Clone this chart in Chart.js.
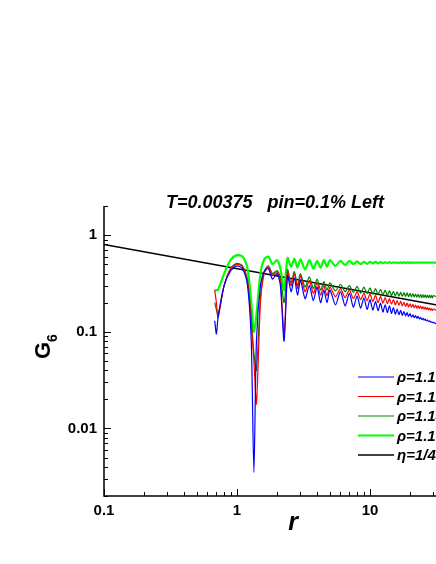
<!DOCTYPE html>
<html>
<head>
<meta charset="utf-8">
<script src="https://cdn.jsdelivr.net/npm/chart.js@4"></script>
<style>
  html, body { margin: 0; padding: 0; background: #fff; overflow: hidden; }
  #wrap { width: 436px; height: 564px; overflow: hidden; }
</style>
</head>
<body>
<div id="wrap"><canvas id="c" width="510" height="564"></canvas></div>
<script>
// r values (shared by all four curves)
const rVals = [0.68,0.70,0.72,0.8,0.9,1.0,1.1,1.2,1.28,1.34,1.4,1.5,1.6,1.72,1.85,2.0,2.12,2.26,2.4,2.55,2.7,2.85,3.0,3.25,3.5,3.75,4.0,4.25,4.5,4.75,5,5.5,6,6.5,7,7.5,8,8.5,9,9.5,10,10.5,11,11.5,12,12.5,13,13.5,14,14.5,15,15.5,16,16.5,17,17.5,18,18.5,19,19.5,20,20.5,21,21.5,22,22.5,23,23.5,24,24.5,25,25.5,26,26.5,27,27.5,28,28.5,29,29.5,30,31,32];
const blue  = [0.13,0.095,0.14,0.3,0.43,0.48,0.45,0.3,0.08,0.0035,0.08,0.3,0.42,0.45,0.35,0.4,0.3,0.08,0.38,0.26,0.36,0.24,0.34,0.22,0.3,0.21,0.29,0.2,0.27,0.2,0.27,0.19,0.26,0.185,0.25,0.18,0.235,0.175,0.225,0.17,0.215,0.168,0.205,0.165,0.198,0.16,0.19,0.158,0.185,0.155,0.178,0.152,0.172,0.15,0.167,0.148,0.162,0.146,0.158,0.144,0.154,0.142,0.15,0.14,0.147,0.138,0.144,0.136,0.141,0.134,0.138,0.132,0.135,0.13,0.132,0.128,0.13,0.126,0.127,0.124,0.125,0.122,0.12];
const red   = [0.27,0.2,0.14,0.3,0.45,0.5,0.47,0.33,0.12,0.05,0.018,0.2,0.4,0.47,0.38,0.42,0.33,0.095,0.42,0.3,0.4,0.28,0.38,0.26,0.34,0.25,0.32,0.24,0.3,0.235,0.29,0.23,0.28,0.225,0.27,0.22,0.26,0.215,0.25,0.21,0.245,0.205,0.238,0.2,0.232,0.198,0.226,0.195,0.22,0.193,0.215,0.19,0.21,0.188,0.206,0.185,0.202,0.183,0.198,0.181,0.195,0.179,0.192,0.177,0.189,0.175,0.186,0.174,0.184,0.172,0.182,0.171,0.18,0.17,0.178,0.168,0.176,0.167,0.174,0.166,0.172,0.168,0.165];
const dgreen= [0.2,0.17,0.15,0.3,0.46,0.51,0.48,0.34,0.14,0.06,0.04,0.22,0.42,0.48,0.4,0.43,0.36,0.2,0.44,0.32,0.42,0.3,0.4,0.29,0.37,0.28,0.35,0.27,0.33,0.27,0.32,0.265,0.31,0.26,0.3,0.255,0.295,0.25,0.29,0.248,0.285,0.245,0.28,0.243,0.275,0.24,0.27,0.238,0.266,0.236,0.262,0.235,0.259,0.234,0.256,0.233,0.254,0.232,0.252,0.231,0.25,0.23,0.248,0.229,0.246,0.228,0.244,0.227,0.243,0.226,0.242,0.226,0.241,0.225,0.24,0.225,0.239,0.224,0.238,0.224,0.237,0.233,0.232];
const green = [0.27,0.27,0.27,0.4,0.56,0.62,0.6,0.45,0.2,0.1,0.15,0.4,0.56,0.6,0.5,0.55,0.45,0.27,0.58,0.47,0.57,0.46,0.56,0.44,0.55,0.45,0.54,0.46,0.55,0.47,0.55,0.48,0.54,0.49,0.54,0.5,0.535,0.5,0.53,0.505,0.53,0.508,0.528,0.51,0.527,0.512,0.526,0.513,0.525,0.514,0.524,0.515,0.523,0.515,0.522,0.516,0.522,0.516,0.521,0.517,0.521,0.517,0.52,0.517,0.52,0.518,0.52,0.518,0.52,0.518,0.519,0.518,0.519,0.518,0.519,0.518,0.519,0.518,0.519,0.518,0.519,0.518,0.518];
// eta = 1/4 reference line
const etaR = [0.1, 100];
const etaG = [0.8, 0.142];
const xTicks = [0.1, 1, 10, 100];
const yTicks = [0.01, 0.1, 1];

const pts = (xs, ys) => xs.map((x, i) => ({ x: x, y: ys[i] }));
const line = (label, data, color, w) => ({ label, data, borderColor: color, borderWidth: w, pointRadius: 0, tension: 0.25, fill: false });

const FF = 'Arial, "Liberation Sans", sans-serif';

// ticks (inward, major + minor), axis titles, heading and legend
const decor = {
  id: 'decor',
  afterDraw(chart) {
    const ctx = chart.ctx, a = chart.chartArea;
    const xs = chart.scales.x, ys = chart.scales.y;
    ctx.save();
    ctx.strokeStyle = '#000'; ctx.lineWidth = 1.5;
    ctx.beginPath();
    ctx.moveTo(a.left, a.top); ctx.lineTo(a.left, a.bottom); ctx.lineTo(a.right, a.bottom);
    ctx.stroke();
    ctx.lineWidth = 1;
    for (let d = 0.1; d < 100; d *= 10) {
      for (let k = 1; k < 10; k++) {
        const px = Math.round(xs.getPixelForValue(d * k)) + 0.5;
        ctx.beginPath(); ctx.moveTo(px, a.bottom); ctx.lineTo(px, a.bottom - (k === 1 ? 7 : 4)); ctx.stroke();
      }
    }
    for (let d = 0.001; d < 2; d *= 10) {
      for (let k = 1; k < 10; k++) {
        const v = d * k; if (v < 0.002 || v > 2) continue;
        const py = Math.round(ys.getPixelForValue(v)) + 0.5;
        ctx.beginPath(); ctx.moveTo(a.left, py); ctx.lineTo(a.left + (k === 1 ? 7 : 4), py); ctx.stroke();
      }
    }
    ctx.fillStyle = '#000';
    ctx.font = 'bold 15px ' + FF;
    ctx.textAlign = 'center'; ctx.textBaseline = 'top';
    xTicks.forEach(v => ctx.fillText(String(v), xs.getPixelForValue(v), a.bottom + 7));
    ctx.textAlign = 'right'; ctx.textBaseline = 'middle';
    yTicks.forEach(v => ctx.fillText(String(v), a.left - 7, ys.getPixelForValue(v)));
    // axis titles
    ctx.font = 'bold italic 25px ' + FF;
    ctx.textAlign = 'center'; ctx.textBaseline = 'middle';
    ctx.fillText('r', 293, 523);
    ctx.save();
    ctx.translate(44, 345); ctx.rotate(-Math.PI / 2);
    ctx.font = 'bold 22px ' + FF;
    ctx.textAlign = 'left';
    ctx.fillText('G', -14, 0);
    ctx.font = 'bold 14px ' + FF;
    ctx.fillText('6', 3, 9);
    ctx.restore();
    // heading
    ctx.font = 'bold italic 18px ' + FF;
    ctx.textAlign = 'left';
    ctx.fillText('T=0.00375   pin=0.1% Left', 166, 203);
    // legend
    const items = [['ρ=1.10', '#0000ff', 1], ['ρ=1.12', '#ff0000', 1], ['ρ=1.14', '#008000', 1], ['ρ=1.16', '#00ff00', 2], ['η=1/4', '#000', 1.3]];
    items.forEach((it, i) => {
      const y = 377 + i * 19.5;
      ctx.strokeStyle = it[1]; ctx.lineWidth = it[2];
      ctx.beginPath(); ctx.moveTo(358, y); ctx.lineTo(394, y); ctx.stroke();
      ctx.font = 'bold italic 15px ' + FF;
      ctx.fillText(it[0], 397, y + 1);
    });
    ctx.restore();
  }
};

new Chart(document.getElementById('c'), {
  type: 'line',
  data: {
    datasets: [
      line('blue', pts(rVals, blue), '#0000ff', 1.2),
      line('red', pts(rVals, red), '#ff0000', 1.2),
      line('darkgreen', pts(rVals, dgreen), '#008000', 1.2),
      line('green', pts(rVals, green), '#00ff00', 2.2),
      line('eta', pts(etaR, etaG), '#000000', 1.4)
    ]
  },
  options: {
    responsive: false,
    animation: false,
    layout: { padding: { top: 206, right: 7, left: 0, bottom: 0 } },
    plugins: { legend: { display: false }, tooltip: { enabled: false } },
    scales: {
      x: {
        type: 'logarithmic', min: 0.1, max: 100,
        grid: { display: false }, border: { display: false },
        ticks: { display: false },
        afterFit(s) { s.height = 68; }
      },
      y: {
        type: 'logarithmic', min: 0.002, max: 2,
        grid: { display: false }, border: { display: false },
        ticks: { display: false },
        afterFit(s) { s.width = 104; }
      }
    }
  },
  plugins: [decor]
});
</script>
</body>
</html>
